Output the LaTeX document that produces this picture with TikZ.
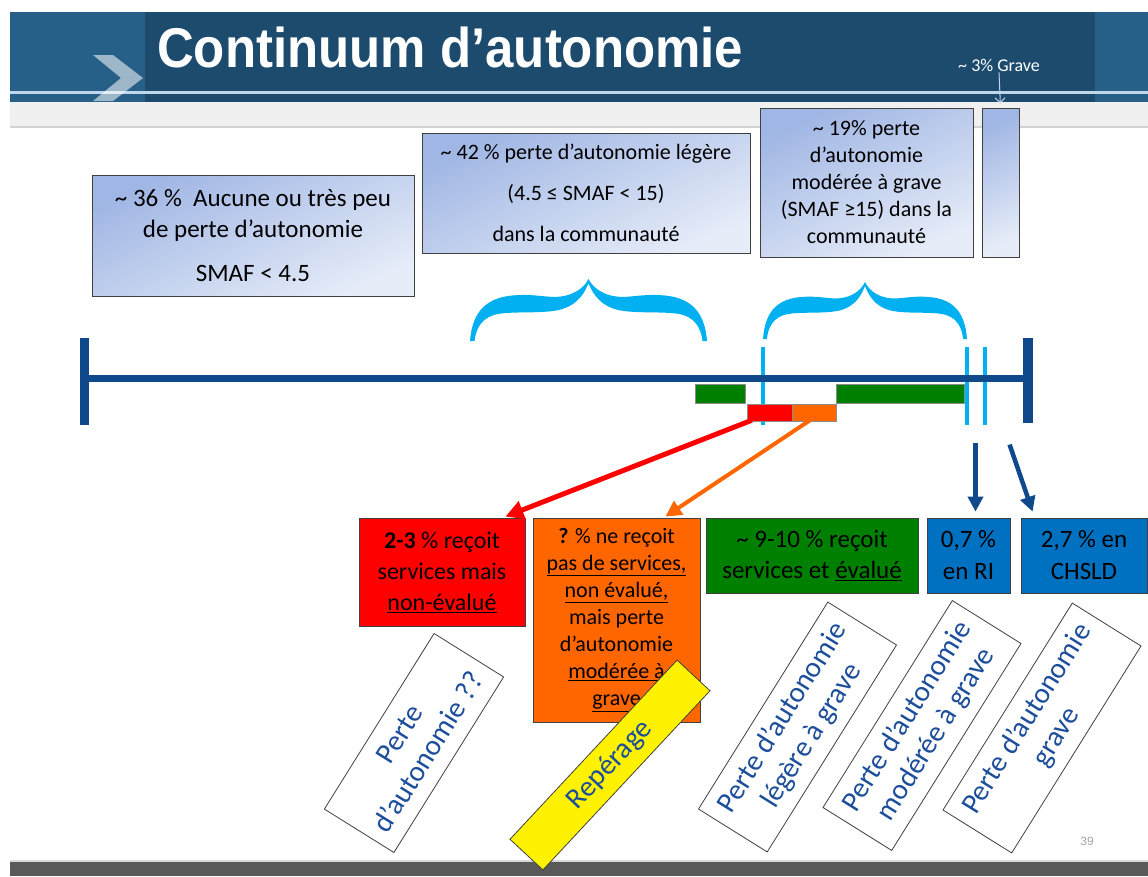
\documentclass[tikz,border=0pt]{standalone}
\usepackage{fontspec}
\setmainfont{Carlito}
\newfontfamily\arialf{Liberation Sans}
\usetikzlibrary{arrows.meta,calc}

\definecolor{hdrdark}{RGB}{28,75,110}
\definecolor{hdrlight}{RGB}{38,96,136}
\definecolor{hdrline}{RGB}{190,215,234}
\definecolor{tlblue}{RGB}{16,72,140}
\definecolor{cyanb}{RGB}{0,176,240}
\definecolor{boxtop}{RGB}{160,182,228}
\definecolor{boxbot}{RGB}{230,236,248}
\definecolor{gbar}{RGB}{0,128,0}
\definecolor{rfill}{RGB}{255,0,0}
\definecolor{ofill}{RGB}{255,102,0}
\definecolor{bfill}{RGB}{0,112,192}
\definecolor{txtblue}{RGB}{28,78,155}
\definecolor{bordergray}{RGB}{64,64,64}
\definecolor{footgray}{RGB}{89,89,89}

\begin{document}
\begin{tikzpicture}[x=1pt,y=-1pt,
  topbox/.style={draw=bordergray, line width=1pt, top color=boxtop, bottom color=boxbot, shading angle=25, align=center, inner sep=0pt, text=black},
  botbox/.style={draw=bordergray, line width=0.8pt, align=center, inner sep=0pt, text=black},
  rotbox/.style={draw=bordergray, line width=0.8pt, fill=white, align=center, inner sep=0pt, text=txtblue, font=\fontsize{29}{34}\selectfont, rotate=58, minimum width=244pt, minimum height=81pt},
  barbox/.style={draw=black!45, line width=0.5pt, inner sep=0pt, minimum height=19pt},
  bracepic/.pic={
    \fill[cyanb] (-1,1) .. controls (-0.98,0.5) and (-0.85,0.28) .. (-0.60,0.26)
      .. controls (-0.4,0.24) and (-0.3,0.34) .. (-0.16,0.25)
      .. controls (-0.07,0.19) and (-0.02,0.08) .. (0,0)
      .. controls (0.02,0.08) and (0.07,0.19) .. (0.16,0.25)
      .. controls (0.3,0.34) and (0.4,0.24) .. (0.60,0.26)
      .. controls (0.85,0.28) and (0.98,0.5) .. (1,1)
      -- (0.962,1)
      .. controls (0.95,0.8) and (0.9,0.6) .. (0.75,0.56)
      .. controls (0.6,0.52) and (0.4,0.56) .. (0.25,0.5)
      .. controls (0.08,0.42) and (0.03,0.2) .. (0,0.07)
      .. controls (-0.03,0.2) and (-0.08,0.42) .. (-0.25,0.5)
      .. controls (-0.4,0.56) and (-0.6,0.52) .. (-0.75,0.56)
      .. controls (-0.9,0.6) and (-0.95,0.8) .. (-0.962,1)
      -- cycle;
  }]
\useasboundingbox (0,0) rectangle (1148,876);
\fill[white] (0,0) rectangle (1148,876);

% header
\fill[hdrdark] (10,12) rectangle (1148,102);
\fill[hdrlight] (10,12) rectangle (145,102);
\fill[hdrlight] (1095,12) rectangle (1148,102);
\fill[hdrline] (10,91) rectangle (1148,93.5);
\fill[white,opacity=0.55] (93,55) -- (113,55) -- (143,78) -- (113,101) -- (93,101) -- (121,78) -- cycle;
\fill[gray!12] (10,102) rectangle (1148,127);
\draw[gray!35, line width=1.5pt] (10,127) -- (1148,127);

\node[anchor=base west, text=white, inner sep=0pt, font=\arialf\bfseries\fontsize{56}{56}\selectfont] (title) at (157,67) {\scalebox{0.91}[1]{Continuum d’autonomie}};
\node[text=white, inner sep=1pt, font=\fontsize{18}{20}\selectfont] (grave) at (999,65) {\textasciitilde{} 3\% Grave};

% top boxes
\node[topbox, minimum width=322pt, minimum height=121pt, font=\fontsize{25}{31}\selectfont] (boxA) at (253,235.5) {\textasciitilde{} 36 \%\ \ Aucune ou très peu\\de perte d’autonomie\\[13pt]SMAF < 4.5};
\node[topbox, minimum width=328pt, minimum height=120pt, font=\fontsize{22}{41}\selectfont] (boxB) at (586,193) {\textasciitilde{} 42 \% perte d’autonomie légère\\(4.5 ≤ SMAF < 15)\\dans la communauté};
\node[topbox, minimum width=213pt, minimum height=149pt, font=\fontsize{22}{27}\selectfont] (boxC) at (866.5,182.5) {\textasciitilde{} 19\% perte\\d’autonomie\\modérée à grave\\(SMAF ≥15) dans la\\communauté};
\node[topbox, minimum width=37pt, minimum height=149pt] (boxD) at (1000.5,182.5) {};
\draw[hdrline, line width=1pt, -{Straight Barb[length=5pt,width=10pt]}, shorten >=4pt] (grave.south) -- (boxD.north);

% braces
\pic[xscale=118.5, yscale=62] (brace1) at (588.5,279) {bracepic};
\pic[xscale=102, yscale=57] (brace2) at (865,282) {bracepic};

% timeline
\foreach \xx in {763,967,985} \draw[cyanb, line width=4pt] (\xx,347) -- (\xx,425);
\draw[tlblue, line width=7pt] (84,378) -- (1027,378);
\draw[tlblue, line width=9pt] (84,338) -- (84,425);
\draw[tlblue, line width=10pt] (1028,338) -- (1028,423);
\node[barbox, fill=gbar, minimum width=50pt] (barG1) at (720,393.5) {};
\node[barbox, fill=gbar, minimum width=128pt] (barG2) at (900,393.5) {};
\node[barbox, fill=rfill, minimum width=45pt, minimum height=17pt] (barR) at (769.5,412.5) {};
\node[barbox, fill=ofill, minimum width=44pt, minimum height=17pt] (barO) at (814,412.5) {};

% bottom boxes
\node[botbox, fill=rfill, minimum width=166pt, minimum height=108pt, font=\fontsize{24}{31}\selectfont] (redbox) at (442,572) {\textbf{2-3} \% reçoit\\services mais\\\underline{non-évalué}};
\node[botbox, fill=ofill, minimum width=167pt, minimum height=204pt, font=\fontsize{22}{27}\selectfont] (orangebox) at (616.5,620) {\textbf{?} \% ne reçoit\\\underline{pas de services,}\\\underline{non évalué,}\\mais perte\\d’autonomie\\\underline{modérée à}\\\underline{grave}};
\node[botbox, fill=gbar, minimum width=212pt, minimum height=75pt, font=\fontsize{25}{31}\selectfont] (greenbox) at (812,555.5) {\textasciitilde{} 9-10 \% reçoit\\services et \underline{évalué}};
\node[botbox, fill=bfill, minimum width=83pt, minimum height=75pt, font=\fontsize{25}{32}\selectfont] (blue1) at (968.5,555.5) {0,7 \%\\en RI};
\node[botbox, fill=bfill, minimum width=126pt, minimum height=75pt, font=\fontsize{25}{32}\selectfont] (blue2) at (1084,555.5) {2,7 \% en\\CHSLD};

% arrows
\draw[rfill, line width=5pt, -{Triangle[length=18pt,width=18pt]}] ($(barR.south west)+(5,-1)$) -- ($(redbox.north east)+(-20,-1)$);
\draw[ofill, line width=4pt, -{Triangle[length=16pt,width=16pt]}] ($(barO.south)+(-4,-1)$) -- ($(orangebox.north east)+(-35,-1)$);
\draw[tlblue, line width=4.5pt, -{Triangle[length=15pt,width=15pt]}] ($(blue1.north)+(7,-75)$) -- ($(blue1.north)+(7,-6)$);
\draw[tlblue, line width=4.5pt, -{Triangle[length=15pt,width=15pt]}] ($(blue2.north west)+(-11,-73)$) -- ($(blue2.north west)+(12,-6)$);

% footer
\fill[footgray] (10,862) rectangle (1148,876);
\draw[gray!30, line width=1.5pt] (10,861) -- (1148,861);
\node[text=gray!70, font=\arialf\fontsize{12}{12}\selectfont] (pnum) at (1087,841) {39};

% rotated boxes
\node[rotbox, minimum width=207pt, minimum height=82pt] (rot1) at (414,743) {Perte\\d’autonomie ??};
\node[rotbox, fill=yellow, rotate=-11, minimum width=245pt, minimum height=45pt, font=\fontsize{29}{33}\selectfont] (reperage) at (610,765) {Repérage};
\node[rotbox] (rot2) at (797.5,727) {Perte d’autonomie\\légère à grave};
\node[rotbox] (rot3) at (922,725.5) {Perte d’autonomie\\modérée à grave};
\node[rotbox] (rot4) at (1042,728) {Perte d’autonomie\\grave};
\end{tikzpicture}
\end{document}
